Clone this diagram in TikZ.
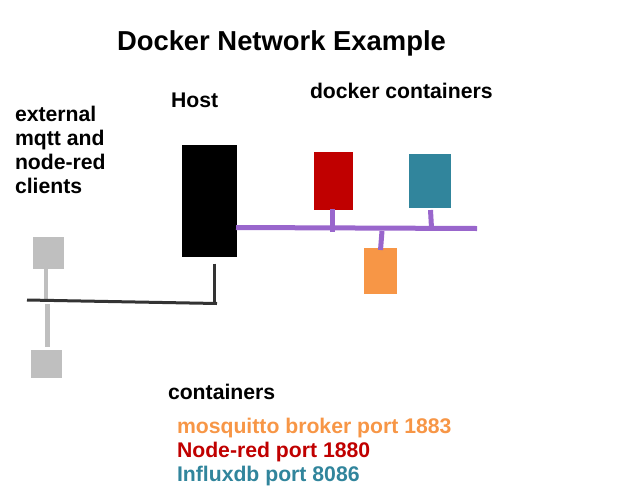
\documentclass[tikz,border=0pt]{standalone}
\usepackage{fontspec}
\setmainfont{Liberation Sans}
\usepackage{tikz}
\usetikzlibrary{positioning}

\definecolor{nodered}{HTML}{C00000}
\definecolor{influx}{HTML}{31859C}
\definecolor{mosquitto}{HTML}{F79646}
\definecolor{bus}{HTML}{9966CC}
\definecolor{client}{HTML}{BFBFBF}
\definecolor{wire}{HTML}{333333}

\tikzset{
  box/.style={inner sep=0, outer sep=0, anchor=north west},
  label/.style={inner sep=0, outer sep=0, anchor=base west, font=\bfseries\fontsize{21.2}{24}\selectfont, align=left},
  buslink/.style={draw=bus, line width=5pt},
  wirelink/.style={draw=wire, line width=3pt},
  clientlink/.style={draw=client, line width=4.5pt}
}

\begin{document}
\begin{tikzpicture}[x=1pt, y=-1pt]
\useasboundingbox (0, 0) rectangle (628, 498);

\node[label, font=\bfseries\fontsize{27.4}{32}\selectfont] (title) at (117, 50) {Docker Network Example};
\node[label] (hostlabel) at (171, 107) {Host};
\node[label] (dockerlabel) at (310, 98) {docker containers};
\node[label] (extlabel1) at (15, 121) {external};
\node[label] (extlabel2) at (15, 145) {mqtt and};
\node[label] (extlabel3) at (15, 169) {node-red};
\node[label] (extlabel4) at (15, 193) {clients};

\node[box, fill=black, minimum width=55pt, minimum height=112pt] (host) at (182, 145) {};
\node[box, fill=nodered, minimum width=39pt, minimum height=58pt] (red) at (314, 152) {};
\node[box, fill=influx, minimum width=42pt, minimum height=54pt] (teal) at (409, 154) {};
\node[box, fill=mosquitto, minimum width=33pt, minimum height=46pt] (orange) at (364, 248) {};
\node[box, fill=client, minimum width=31pt, minimum height=32pt] (client1) at (33, 237) {};
\node[box, fill=client, minimum width=31pt, minimum height=28pt] (client2) at (31, 350) {};

\coordinate (busend) at (477, 228.5);
\coordinate (buscorner) at (236, 227.5);
\coordinate (redbus) at (332.5, 232);
\coordinate (orangebus) at (382, 231);
\coordinate (tealbus) at (431.5, 228);
\coordinate (tealtop) at (430.5, 210);
\coordinate (redtop) at (332.5, 209);
\coordinate (orangetop) at (380.5, 250);

\draw[buslink] (buscorner) -- (busend);
\draw[buslink] (redtop) -- (redbus);
\draw[buslink] (orangebus) -- (orangetop);
\draw[buslink] (tealtop) -- (tealbus);

\coordinate (wireleft) at (27, 300);
\coordinate (wirecorner) at (217, 303.5);
\coordinate (hostdrop) at (214.5, 263.5);
\coordinate (hostfoot) at (214.5, 303);
\coordinate (client1foot) at (46, 300);
\coordinate (client2top) at (47.5, 304);
\coordinate (client2foot) at (47.5, 347);

\draw[clientlink] (client1.south -| client1foot) -- (client1foot);
\draw[clientlink] (client2top) -- (client2foot);
\draw[wirelink] (wireleft) -- (wirecorner);
\draw[wirelink] (hostdrop) -- (hostfoot);

\node[label] (containers) at (168, 399) {containers};
\node[label, text=mosquitto] (mosquittolabel) at (177, 433) {mosquitto broker port 1883};
\node[label, text=nodered] (noderedlabel) at (177, 457) {Node-red port 1880};
\node[label, text=influx] (influxlabel) at (177, 481) {Influxdb port 8086};
\end{tikzpicture}
\end{document}
